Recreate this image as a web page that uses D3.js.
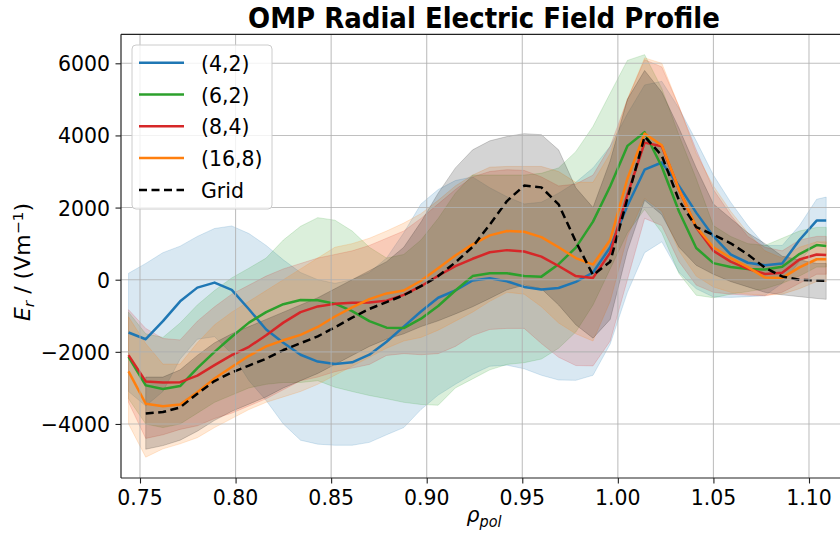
<!DOCTYPE html>
<html><head><meta charset="utf-8">
<script src="https://cdn.jsdelivr.net/npm/d3@7"></script>
<style>body{margin:0;background:#fff}svg{display:block;font-family:"DejaVu Sans",sans-serif}</style>
</head><body><svg id="c" width="840" height="533"></svg>
<script>
// ---------- data ----------
const rho = [0.744,0.753,0.762,0.771,0.780,0.789,0.798,0.807,0.816,0.825,0.834,0.843,0.852,0.861,0.870,0.879,0.888,0.897,0.906,0.915,0.924,0.933,0.942,0.951,0.960,0.969,0.978,0.987,0.996,1.005,1.014,1.023,1.032,1.041,1.050,1.059,1.068,1.077,1.086,1.095,1.104,1.109];

const seriesNames = ["(4,2)", "(6,2)", "(8,4)", "(16,8)", "Grid"];

const mean42 = [-1464,-1650,-1150,-600,-220,-80,-280,-820,-1380,-1750,-2080,-2270,-2340,-2290,-2080,-1720,-1300,-880,-500,-300,-20,40,-46,-200,-270,-230,-60,200,900,2050,3050,3250,2600,1860,1200,700,470,400,450,1100,1640,1640];
const hi42 = [178,450,750,930,1200,1420,1490,1280,950,550,200,0,-100,0,200,600,1300,2100,2500,2750,2850,2550,2300,2100,2150,2400,2700,3100,3700,4600,5400,5500,4750,3850,2900,2150,1500,950,950,1500,2230,2290];
const lo42 = [-3100,-3500,-3100,-2200,-1650,-1580,-2050,-2800,-3350,-4000,-4450,-4560,-4590,-4590,-4510,-4300,-4100,-3600,-3200,-2900,-2620,-2400,-2370,-2470,-2650,-2780,-2790,-2650,-1780,-350,750,1050,200,-250,-480,-490,-470,-440,-100,500,1050,1000];

const mean62 = [-2140,-2930,-3030,-2950,-2450,-2000,-1580,-1190,-900,-680,-565,-570,-665,-870,-1150,-1330,-1340,-1080,-730,-300,100,180,180,100,85,430,890,1610,2590,3710,4090,3130,1890,880,460,350,300,280,360,710,960,936];
const hi62 = [-900,-1500,-1600,-1200,-700,-300,50,320,600,1100,1480,1720,1650,1350,900,600,700,1100,1700,2400,2900,2900,2900,2900,2950,3100,3550,4250,5170,6080,6240,5300,4000,2800,1500,1200,1000,950,1150,1350,1450,1450];
const lo62 = [-3300,-4000,-4100,-4000,-3700,-3400,-3200,-3000,-2900,-2850,-2850,-2800,-2980,-3100,-3210,-3300,-3400,-3460,-3480,-3000,-2750,-2500,-2350,-2300,-2200,-1900,-1450,-700,300,1300,1950,1300,170,-430,-500,-400,-330,-250,-100,100,350,350];

const mean84 = [-2090,-2820,-2850,-2840,-2660,-2370,-2090,-1860,-1540,-1190,-900,-740,-670,-640,-630,-580,-420,-180,110,375,580,760,820,780,640,380,100,50,750,2360,3800,3700,2500,1450,800,500,300,160,190,560,700,686];
const hi84 = [-830,-1350,-1630,-1670,-1150,-750,-400,-150,100,300,450,600,700,800,950,1150,1350,1700,2100,2500,2850,3000,3050,3030,2850,2600,2650,2900,3700,5000,6100,5900,4800,3600,2500,1800,1200,900,800,1100,1200,1200];
const lo84 = [-3400,-4400,-4300,-4150,-4050,-3850,-3700,-3500,-3300,-3050,-2800,-2700,-2550,-2450,-2350,-2100,-2050,-2080,-2050,-1850,-1550,-1380,-1350,-1350,-1770,-2150,-2380,-2390,-1700,0,1700,1500,500,-150,-350,-400,-430,-450,-350,-100,150,150];

const mean168 = [-2540,-3440,-3510,-3460,-3120,-2740,-2420,-2110,-1850,-1680,-1530,-1310,-1020,-770,-540,-380,-300,-30,320,670,980,1230,1350,1330,1180,900,600,420,1100,2800,4050,3730,2500,1470,900,600,350,60,50,340,567,567];
const hi168 = [-1030,-1770,-2340,-2340,-1750,-1250,-900,-600,-300,0,300,600,900,1000,1150,1350,1570,1830,2200,2600,2900,3120,3140,3140,3140,3000,2700,2700,3500,5000,6150,6000,4800,3500,2600,1900,1300,800,600,900,1050,1050];
const lo168 = [-4000,-4920,-4690,-4550,-4380,-4100,-3850,-3600,-3400,-3250,-3100,-2900,-2650,-2400,-2150,-1900,-1700,-1600,-1400,-1150,-900,-600,-350,-400,-750,-1200,-1500,-1700,-600,1200,2250,1900,800,100,-200,-350,-400,-430,-400,-250,-50,-50];

const meanGrid = [null,-3710,-3670,-3540,-3160,-2810,-2570,-2380,-2190,-1950,-1760,-1570,-1320,-1050,-810,-620,-430,-180,100,480,910,1530,2180,2610,2560,2090,1060,130,500,2250,3970,3440,2200,1460,1245,1010,700,330,90,0,-20,-28];
const hiGrid = [null,-2700,-2700,-2500,-2100,-1750,-1500,-1300,-1100,-900,-700,-500,-250,0,250,500,900,1600,2400,3100,3600,3850,3970,4050,4020,3600,2550,2000,3300,5000,5800,5200,4200,3100,2100,1700,1300,1000,650,550,450,450];
const loGrid = [null,-4700,-4600,-4450,-4200,-3900,-3650,-3450,-3250,-3000,-2800,-2600,-2350,-2100,-1850,-1650,-1500,-1300,-1140,-950,-750,-520,-280,-150,-250,-700,-1250,-1620,-1100,800,2200,1800,900,400,150,-50,-200,-350,-420,-470,-520,-545];

const xTicks = [0.75, 0.80, 0.85, 0.90, 0.95, 1.00, 1.05, 1.10];
const yTicks = [-4000, -2000, 0, 2000, 4000, 6000];

// ---------- build ----------
const colors = ["#1f77b4", "#2ca02c", "#d62728", "#ff7f0e", "#000000"];
const means = [mean42, mean62, mean84, mean168, meanGrid];
const his = [hi42, hi62, hi84, hi168, hiGrid];
const los = [lo42, lo62, lo84, lo168, loGrid];
const series = seriesNames.map((n, k) => ({
  name: n, color: colors[k], dashed: n === "Grid",
  pts: rho.map((r, i) => ({ x: r, m: means[k][i], hi: his[k][i], lo: los[k][i] }))
}));

const L = 121, R = 841, T = 34.3, B = 478;
const x = d3.scaleLinear().domain([0.75 - 19 / 1911.4, 0.75 + 701 / 1911.4]).range([L, R]);
const y = d3.scaleLinear().domain([-5498, 6804]).range([B, T]);
const SX = 0.93;

const svg = d3.select("#c");
svg.append("defs").append("clipPath").attr("id", "pc")
  .append("rect").attr("x", L).attr("y", T).attr("width", R - L).attr("height", B - T);
const plot = svg.append("g").attr("clip-path", "url(#pc)");

// bands
const area = d3.area().defined(d => d.lo != null).x(d => x(d.x)).y0(d => y(d.lo)).y1(d => y(d.hi));
series.forEach(s => {
  plot.append("path").attr("d", area(s.pts))
    .attr("fill", s.color).attr("fill-opacity", 0.17)
    .attr("stroke", s.color).attr("stroke-opacity", 0.17).attr("stroke-width", 1);
});

// grid
const grid = svg.append("g");
xTicks.forEach(t => grid.append("line").attr("x1", x(t)).attr("x2", x(t)).attr("y1", T).attr("y2", B)
  .attr("stroke", "#b0b0b0").attr("stroke-width", 1.1).attr("stroke-opacity", 0.8));
yTicks.forEach(t => grid.append("line").attr("x1", L).attr("x2", R).attr("y1", y(t)).attr("y2", y(t))
  .attr("stroke", "#b0b0b0").attr("stroke-width", 1.1).attr("stroke-opacity", 0.8));

// lines
const line = d3.line().defined(d => d.m != null).x(d => x(d.x)).y(d => y(d.m));
series.forEach(s => {
  plot.append("path").attr("d", line(s.pts)).attr("fill", "none")
    .attr("stroke", s.color).attr("stroke-width", 2.5)
    .attr("stroke-dasharray", s.dashed ? "8,4.5" : null)
    .attr("stroke-linejoin", "round");
});

// axes
const xAxis = d3.axisBottom(x).tickValues(xTicks).tickSize(5.5).tickFormat("");
const yAxis = d3.axisLeft(y).tickValues(yTicks).tickSize(5.5).tickFormat("");
const gx = svg.append("g").attr("transform", `translate(0,${B})`).call(xAxis);
const gy = svg.append("g").attr("transform", `translate(${L},0)`).call(yAxis);
[gx, gy].forEach(g => {
  g.select(".domain").remove();
  g.selectAll(".tick line").attr("stroke", "#222").attr("stroke-width", 1.1);
});
// spines
svg.append("line").attr("x1", L).attr("x2", L).attr("y1", T).attr("y2", B).attr("stroke", "#222").attr("stroke-width", 1.2);
svg.append("line").attr("x1", L).attr("x2", R).attr("y1", B).attr("y2", B).attr("stroke", "#222").attr("stroke-width", 1.2);
svg.append("line").attr("x1", L).attr("x2", R).attr("y1", T).attr("y2", T).attr("stroke", "#222").attr("stroke-width", 1.2);

function txt(str, px, py, anchor, size, weight) {
  return svg.append("text").attr("transform", `translate(${px},${py}) scale(${SX},1)`)
    .attr("text-anchor", anchor).attr("font-size", size).attr("font-weight", weight || "normal")
    .attr("fill", "#000").text(str);
}
const fmt = v => (v < 0 ? "\u2212" : "") + Math.abs(v).toFixed(0);
xTicks.forEach(t => txt(t.toFixed(2), x(t), 505, "middle", 22));
yTicks.forEach(t => txt(fmt(t), 110, y(t) + 8, "end", 22));

// title
txt("OMP Radial Electric Field Profile", 484, 28, "middle", 28, "bold");

// x label
const xl = svg.append("text").attr("transform", `translate(484,522) scale(${SX},1)`)
  .attr("text-anchor", "middle").attr("font-size", 22);
xl.append("tspan").attr("font-style", "italic").text("\u03c1");
xl.append("tspan").attr("font-style", "italic").attr("font-size", 15.5).attr("dy", 5).text("pol");

// y label
const yl = svg.append("text").attr("transform", `translate(30,262) rotate(-90) scale(1,${SX})`)
  .attr("text-anchor", "middle").attr("font-size", 22);
yl.append("tspan").attr("font-style", "italic").text("E");
yl.append("tspan").attr("font-style", "italic").attr("font-size", 15.5).attr("dy", 4).text("r");
yl.append("tspan").attr("dy", -4).text(" / (Vm");
yl.append("tspan").attr("font-size", 15.5).attr("dy", -8).text("\u22121");
yl.append("tspan").attr("dy", 8).text(")");

// legend
const lg = svg.append("g");
lg.append("rect").attr("x", 132).attr("y", 45).attr("width", 140).attr("height", 164).attr("rx", 4)
  .attr("fill", "#fff").attr("fill-opacity", 0.8).attr("stroke", "#cccccc").attr("stroke-width", 1);
series.forEach((s, i) => {
  const yy = 62.7 + i * 31.8;
  lg.append("line").attr("x1", 139).attr("x2", 184).attr("y1", yy).attr("y2", yy)
    .attr("stroke", s.color).attr("stroke-width", 2.5).attr("stroke-dasharray", s.dashed ? "8,4.5" : null);
  lg.append("text").attr("transform", `translate(201,${yy + 8}) scale(${SX},1)`)
    .attr("font-size", 22).attr("fill", "#000").text(s.name);
});
</script></body></html>
